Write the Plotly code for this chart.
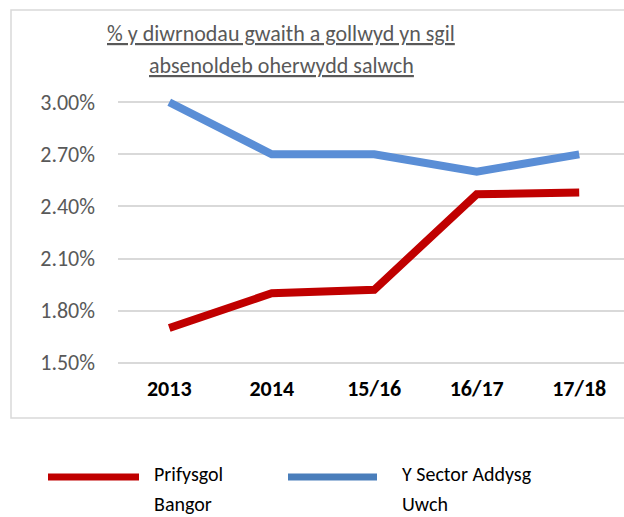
import plotly.graph_objects as go

# Data
categories = ["2013", "2014", "15/16", "16/17", "17/18"]
bangor = [1.70, 1.90, 1.92, 2.47, 2.48]
sector = [3.00, 2.70, 2.70, 2.60, 2.70]
y_ticks = [1.50, 1.80, 2.10, 2.40, 2.70, 3.00]

title_lines = ["% y diwrnodau gwaith a gollwyd yn sgil", "absenoldeb oherwydd salwch"]

RED = "#C00000"
BLUE = "#5A8ED6"
GRID = "#D9D9D9"
FONT = "Carlito, Lato, sans-serif"

W, H = 624, 517
L, R, T, B = 118, 0, 97, 149


def px_x(px):
    return (px - L) / (W - L - R)


def px_y(py):
    return (H - B - py) / (H - T - B)


fig = go.Figure()

fig.add_trace(go.Scatter(
    x=categories, y=bangor, mode="lines", name="Prifysgol Bangor",
    line=dict(color=RED, width=8), showlegend=False
))
fig.add_trace(go.Scatter(
    x=categories, y=sector, mode="lines", name="Y Sector Addysg Uwch",
    line=dict(color=BLUE, width=8), showlegend=False
))

# cadre du graphique
fig.add_shape(type="rect", xref="paper", yref="paper",
              x0=px_x(11), x1=px_x(700), y0=px_y(418), y1=px_y(10),
              line=dict(color=GRID, width=1.5), layer="below")

# titre (une annotation par ligne pour garder l'interligne)
for i, line in enumerate(title_lines):
    fig.add_annotation(
        text=f"<u>{line}</u>",
        xref="paper", yref="paper", x=px_x(281), y=px_y(33 + 32 * i),
        xanchor="center", yanchor="middle", showarrow=False,
        font=dict(family=FONT, size=22, color="#595959")
    )

# légende dessinée à la main
legend_items = [
    (["Prifysgol", "Bangor"], "#C00000", 48, 139, 152),
    (["Y Sector Addysg", "Uwch"], "#4A7EBB", 288, 377, 400),
]
for lines, color, x0, x1, xt in legend_items:
    fig.add_shape(type="line", xref="paper", yref="paper",
                  x0=px_x(x0), x1=px_x(x1), y0=px_y(477), y1=px_y(477),
                  line=dict(color=color, width=7))
    for i, txt in enumerate(lines):
        fig.add_annotation(
            text=txt, xref="paper", yref="paper", x=px_x(xt), y=px_y(474 + 30 * i),
            xanchor="left", yanchor="middle", align="left", showarrow=False,
            font=dict(family=FONT, size=20, color="#000000")
        )

fig.update_layout(
    width=W, height=H,
    margin=dict(l=L, r=R, t=T, b=B),
    plot_bgcolor="white", paper_bgcolor="white",
    xaxis=dict(
        range=[-0.5, 4.437], showgrid=False, zeroline=False, showline=False,
        tickfont=dict(family=FONT, size=22, color="#000000", weight="bold"),
        ticks="", ticklabelstandoff=5
    ),
    yaxis=dict(
        range=[1.47, 3.03], tickvals=y_ticks,
        ticktext=[f"{v:.2f}%" for v in y_ticks],
        showgrid=True, gridcolor=GRID, gridwidth=1.5,
        zeroline=False, showline=False, ticks="",
        tickfont=dict(family=FONT, size=22, color="#595959"),
        ticklabelstandoff=22
    ),
)

fig.write_html(
    "out.html",
    config={"displayModeBar": False},
    post_script="document.body.style.margin='0';document.body.style.overflow='hidden';"
)
